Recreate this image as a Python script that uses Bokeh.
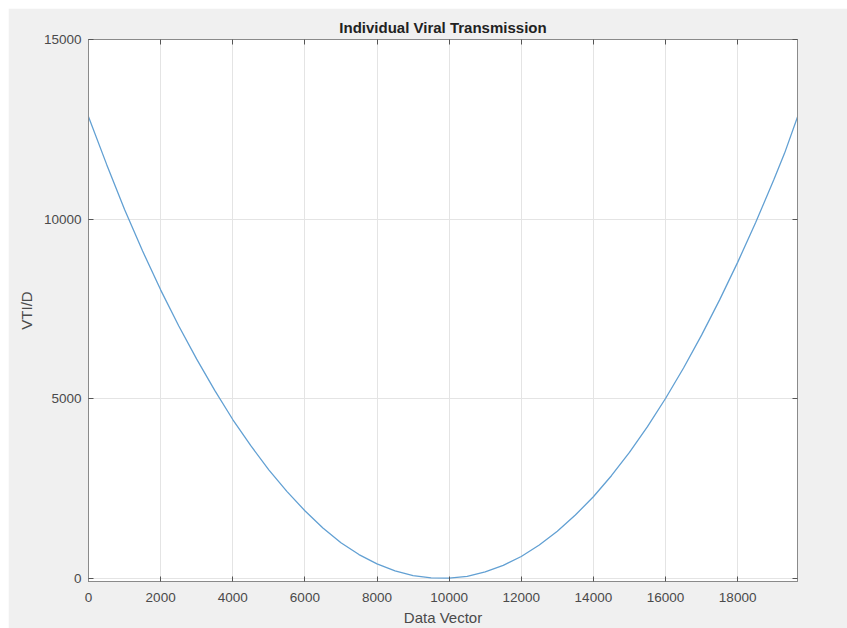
from bokeh.plotting import figure
from bokeh.models import LinearAxis, FixedTicker, Range1d, Spacer
from bokeh.layouts import column, row
from bokeh.embed import file_html
from bokeh.resources import INLINE

# Values
data_vector = [0, 500, 1000, 1500, 2000, 2500, 3000, 3500, 4000, 4500, 5000, 5500,
               6000, 6500, 7000, 7500, 8000, 8500, 9000, 9500, 10000, 10500,
               11000, 11500, 12000, 12500, 13000, 13500, 14000, 14500, 15000,
               15500, 16000, 16500, 17000, 17500, 18000, 18500, 19000, 19300, 19660]
vti_d = [12850, 11530, 10270, 9110, 8030, 7030, 6100, 5230, 4420, 3690, 3020, 2420,
         1880, 1400, 990, 660, 400, 205, 75, 12, 5, 55,
         175, 360, 605, 925, 1310, 1760, 2270, 2855, 3505,
         4220, 5005, 5855, 6770, 7750, 8795, 9905, 11085, 11830, 12840]
x_ticks = [0, 2000, 4000, 6000, 8000, 10000, 12000, 14000, 16000, 18000]
y_ticks = [0, 5000, 10000, 15000]

FONT = "Liberation Sans"
AX = "#8a8a8a"
TXT = "#4a4a4a"

p = figure(width=839, height=620, output_backend="svg", toolbar_location=None,
           x_range=Range1d(0, 19660), y_range=Range1d(-90, 15000),
           min_border_left=80, min_border_right=50, min_border_top=31,
           min_border_bottom=44, x_axis_location=None, y_axis_location=None,
           background_fill_color="white", border_fill_color="#f0f0f0")

p.title.text = "Individual Viral Transmission"
p.title.align = "center"
p.title.text_font = FONT
p.title.text_font_size = "15px"
p.title.text_font_style = "bold"
p.title.text_color = "#222222"
p.title.standoff = 8

p.outline_line_color = AX
p.outline_line_width = 1
p.outline_line_alpha = 1

def make_axis(ticks, show_labels):
    ax = LinearAxis(ticker=FixedTicker(ticks=ticks))
    ax.axis_line_color = AX
    ax.major_tick_line_color = "#555555"
    ax.major_tick_in = 5
    ax.major_tick_out = 0
    ax.minor_tick_line_color = None
    ax.major_label_text_font = FONT
    ax.major_label_text_font_size = "13.5px"
    ax.major_label_text_color = TXT if show_labels else None
    ax.axis_label_text_font = FONT
    ax.axis_label_text_font_size = "15px"
    ax.axis_label_text_font_style = "normal"
    ax.axis_label_text_color = TXT
    return ax

xb = make_axis(x_ticks, True)
xb.axis_label = "Data Vector"
xb.major_label_standoff = 11
xb.axis_label_standoff = 4
p.add_layout(xb, "below")

yl = make_axis(y_ticks, True)
yl.axis_label = "VTI/D"
yl.major_label_standoff = 7
yl.axis_label_standoff = 6
p.add_layout(yl, "left")

xt = make_axis(x_ticks, False)
xt.major_label_standoff = 0
p.add_layout(xt, "above")
yr = make_axis(y_ticks, False)
yr.major_label_standoff = 0
p.add_layout(yr, "right")

p.xgrid.ticker = FixedTicker(ticks=x_ticks)
p.ygrid.ticker = FixedTicker(ticks=y_ticks)
p.grid.grid_line_color = "#e4e4e4"
p.grid.grid_line_width = 1

p.line(data_vector, vti_d, line_color="#62a0d3", line_width=1.3)

layout = column(Spacer(height=8), row(Spacer(width=8), p))

open("out.html", "w").write(file_html(layout, INLINE))
